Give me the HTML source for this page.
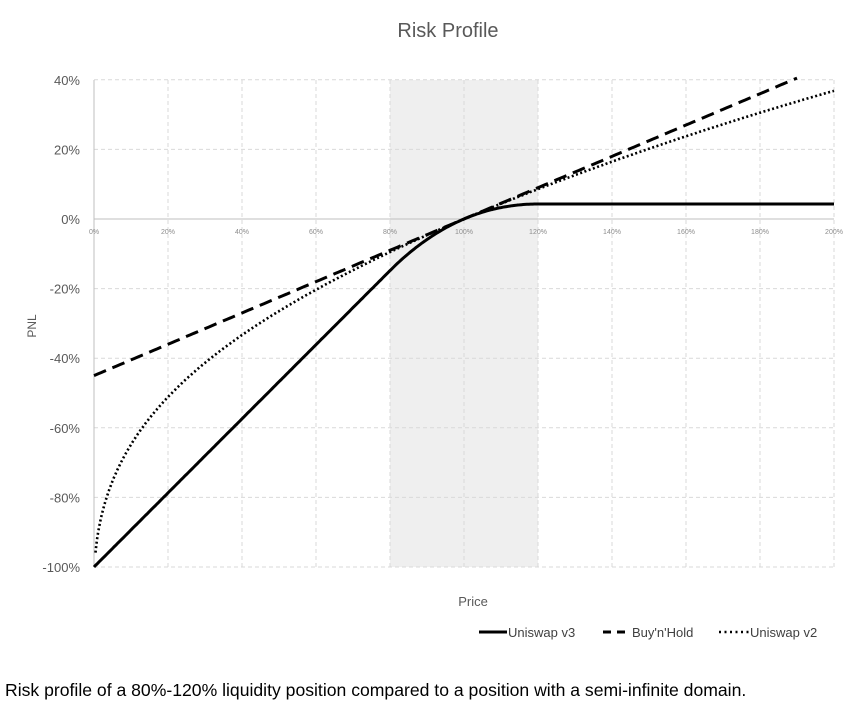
<!DOCTYPE html>
<html><head><style>
body{margin:0;background:#fff;width:864px;height:723px;overflow:hidden;font-family:"Liberation Sans",sans-serif}
svg text{font-family:"Liberation Sans",sans-serif}
</style></head><body>
<svg id="s" width="864" height="723" xmlns="http://www.w3.org/2000/svg">
<text x="448" y="37" text-anchor="middle" font-size="20" fill="#595959">Risk Profile</text>
<rect x="390" y="80" width="148" height="487" fill="#efefef"/>
<g id="grid" stroke="#d9d9d9" stroke-dasharray="4,3" stroke-width="1"></g>
<line x1="94" y1="80" x2="94" y2="567" stroke="#bfbfbf"/>
<line x1="94" y1="219" x2="834" y2="219" stroke="#bfbfbf"/>
<g id="lab" fill="#595959"></g>
<text transform="translate(36,326) rotate(-90)" text-anchor="middle" font-size="12" fill="#595959">PNL</text>
<text x="473" y="606" text-anchor="middle" font-size="13" fill="#595959">Price</text>
<g id="curves" fill="none" stroke="#000" stroke-width="3"></g>
<g font-size="13" fill="#404040">
<line x1="479" y1="632" x2="507" y2="632" stroke="#000" stroke-width="3"/>
<text x="508" y="637">Uniswap v3</text>
<line x1="603" y1="632" x2="631" y2="632" stroke="#000" stroke-width="3" stroke-dasharray="8,6"/>
<text x="632" y="637">Buy'n'Hold</text>
<line x1="719" y1="632" x2="749" y2="632" stroke="#000" stroke-width="2.5" stroke-dasharray="2,3.5"/>
<text x="750" y="637">Uniswap v2</text>
</g>
<text x="5" y="696" font-size="17.6" fill="#000">Risk profile of a 80%-120% liquidity position compared to a position with a semi-infinite domain.</text>
</svg>
<script>
var NS="http://www.w3.org/2000/svg";
function X(p){return 94+p*370}
function Y(v){return 219-v*348}
function el(t,a,par){var e=document.createElementNS(NS,t);for(var k in a)e.setAttribute(k,a[k]);document.getElementById(par).appendChild(e);return e}
for(var i=1;i<=10;i++){el("line",{x1:X(i*0.2),y1:80,x2:X(i*0.2),y2:567},"grid");}
[0.4,0.2,-0.2,-0.4,-0.6,-0.8,-1].forEach(function(v){el("line",{x1:94,y1:Y(v),x2:834,y2:Y(v)},"grid")});
[0.4,0.2,0,-0.2,-0.4,-0.6,-0.8,-1].forEach(function(v){var t=el("text",{x:80,y:Y(v)+5,"text-anchor":"end","font-size":"13"},"lab");t.textContent=Math.round(v*100)+"%"});
for(var i=0;i<=10;i++){var t=el("text",{x:X(i*0.2),y:234,"text-anchor":"middle","font-size":"7",fill:"#8c8c8c"},"lab");t.textContent=(i*20)+"%"}
var sa=Math.sqrt(0.8),sb=Math.sqrt(1.2);
function V(p){if(p<0.8)return p*(1/sa-1/sb);if(p>1.2)return sb-sa;return 2*Math.sqrt(p)-sa-p/sb}
var V1=V(1);
function path(f,p0,p1,n){var d="";for(var i=0;i<=n;i++){var p=p0+(p1-p0)*i/n;var y=f(p);if(Y(y)<78)break;d+=(i?"L":"M")+X(p).toFixed(1)+","+Y(y).toFixed(1)}return d}
el("path",{d:path(function(p){return V(p)/V1-1},0,2,400)},"curves");
el("path",{d:path(function(p){return 0.45*(p-1)},0,2,200),"stroke-dasharray":"13,7"},"curves");
el("path",{d:path(function(p){return 0.9*(Math.sqrt(p)-1)-0.15*Math.pow(1-Math.sqrt(p),4)},0.004,2,800),"stroke-dasharray":"2,2.5","stroke-width":"2.6"},"curves");
</script>
</body></html>
